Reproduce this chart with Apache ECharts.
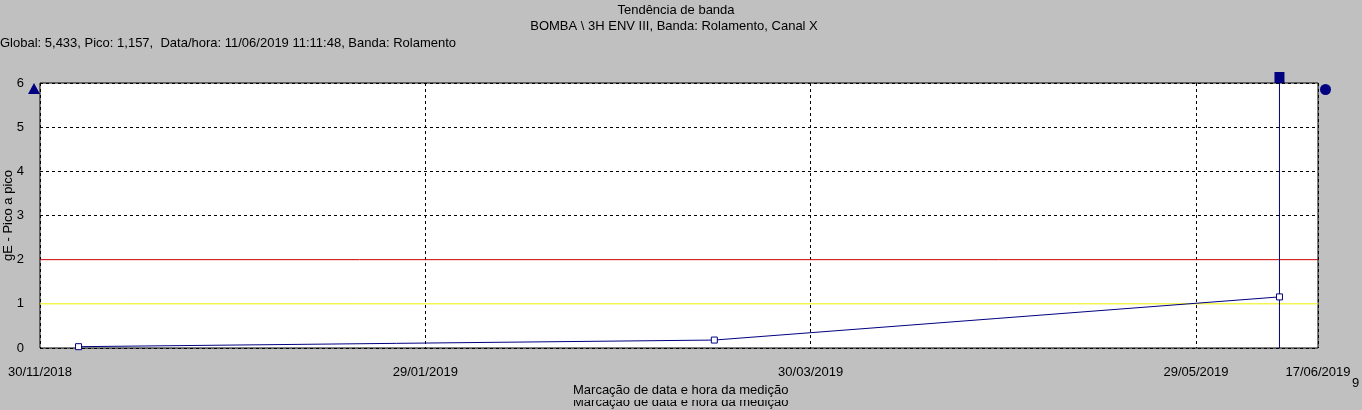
<!DOCTYPE html>
<html>
<head>
<meta charset="utf-8">
<script src="https://cdn.jsdelivr.net/npm/echarts@6/dist/echarts.min.js"></script>
<style>
html,body{margin:0;padding:0;background:#c0c0c0;}
#c{width:1362px;height:410px;}
</style>
</head>
<body>
<div id="c"></div>
<script>
// ---- data ----
const axisStart = '30/11/2018';
const axisEnd = '17/06/2019';
const tickStepDays = 60;
const measureDates = ['06/12/2018', '15/03/2019', '11/06/2019'];
const peakValues = [0.03, 0.18, 1.157];
const cursorDate = '11/06/2019';
const alertLevel = 1;
const dangerLevel = 2;
const yTicks = [0, 1, 2, 3, 4, 5, 6];
const titleText = 'Tendência de banda';
const subtitleText = 'BOMBA \\ 3H ENV III, Banda: Rolamento, Canal X';
const infoText = 'Global: 5,433, Pico: 1,157,  Data/hora: 11/06/2019 11:11:48, Banda: Rolamento';
const xName = 'Marcação de data e hora da medição';
const yName = 'gE - Pico a pico';

const yMin = yTicks[0], yMax = yTicks[yTicks.length - 1], yStep = yTicks[1] - yTicks[0];

function parseDMY(s){ const p = s.split('/').map(Number); return Date.UTC(p[2], p[1]-1, p[0]); }
const base = parseDMY(axisStart);
function dayIdx(s){ return Math.round((parseDMY(s) - base) / 86400000); }
function fmtDay(v){
  const d = new Date(base + Math.round(v) * 86400000);
  const dd = String(d.getUTCDate()).padStart(2,'0');
  const mm = String(d.getUTCMonth()+1).padStart(2,'0');
  return dd + '/' + mm + '/' + d.getUTCFullYear();
}
const xMax = dayIdx(axisEnd);
const seriesData = measureDates.map((d,i)=>[dayIdx(d), peakValues[i]]);
const cursorX = dayIdx(cursorDate);

const navy = '#000080';
const font = 'Liberation Sans, Arial, sans-serif';
const fs = 13;

// grid lines hidden where an alarm line replaces them
const ySplitColors = yTicks.map(v => (v === alertLevel || v === dangerLevel) ? 'rgba(0,0,0,0)' : '#000');

function refLine(points, color, z){
  return {
    type: 'line', data: points, z: z, silent: true, symbol: 'none',
    lineStyle: {color: color, width: 1, type: 'solid', opacity: 1},
    emphasis: {disabled: true}
  };
}

const chart = echarts.init(document.getElementById('c'), null, {renderer:'canvas'});
chart.setOption({
  backgroundColor: '#c0c0c0',
  animation: false,
  textStyle: {fontFamily: font, color:'#000'},
  title: [
    {text: titleText, left: 676, textAlign: 'center', top: 4, padding: 0, textStyle:{fontSize:fs, fontWeight:'normal', color:'#000', fontFamily:font}},
    {text: subtitleText, left: 674, textAlign: 'center', top: 20, padding: 0, textStyle:{fontSize:fs, fontWeight:'normal', color:'#000', fontFamily:font}},
    {text: infoText, left: 0, top: 37, padding: 0, textStyle:{fontSize:fs, fontWeight:'normal', color:'#000', fontFamily:font}}
  ],
  grid: {left: 40, top: 83, width: 1278, height: 265, containLabel: false, outerBoundsMode: 'none',
         show: true, backgroundColor: '#fff', borderColor: '#000', borderWidth: 1},
  xAxis: {
    type: 'value', min: 0, max: xMax, interval: tickStepDays,
    axisLine: {show: false}, axisTick: {show: false},
    axisLabel: {show: true, margin: 18, fontSize: fs, color: '#000', fontFamily: font, formatter: fmtDay, showMinLabel: true, showMaxLabel: true},
    splitLine: {show: true, lineStyle: {color: '#000', type: [3,3], width: 1}}
  },
  yAxis: {
    type: 'value', min: yMin, max: yMax, interval: yStep,
    name: yName, nameLocation: 'middle', nameGap: 25, nameRotate: 90, nameMoveOverlap: false,
    nameTextStyle: {fontSize: fs, color: '#000', fontFamily: font},
    axisLine: {show: false}, axisTick: {show: false},
    axisLabel: {margin: 16, fontSize: fs, color: '#000', fontFamily: font},
    splitLine: {show: true, lineStyle: {color: ySplitColors, type: [3,3], width: 1}}
  },
  graphic: [
    {type:'text', left: 573, top: 396, z: 1, style:{text: xName, font: fs + 'px ' + font, fill:'#000'}},
    {type:'rect', left: 560, top: 393, z: 2, shape:{width: 260, height: 7}, style:{fill:'#c0c0c0'}},
    {type:'text', left: 573, top: 384, z: 3, style:{text: xName, font: fs + 'px ' + font, fill:'#000'}},
    {type:'text', left: 1352, top: 377, z: 3, style:{text: '9', font: fs + 'px ' + font, fill:'#000'}}
  ],
  series: [
    refLine([[0, alertLevel], [xMax, alertLevel]], '#f0f000', 8),
    refLine([[0, dangerLevel], [xMax, dangerLevel]], '#cc0000', 8),
    refLine([[cursorX, yMin], [cursorX, yMax]], navy, 9),
    {
      type: 'line', data: seriesData, z: 10,
      symbol: 'rect', symbolSize: 6, showAllSymbol: true,
      lineStyle: {color: navy, width: 1},
      itemStyle: {color: '#fff', borderColor: navy, borderWidth: 1}
    },
    {
      type: 'scatter', clip: false, z: 11, silent: true,
      data: [
        {value: [0, yMax], symbol: 'triangle', symbolSize: [12, 11], symbolOffset: [-6, 5.5]},
        {value: [xMax, yMax], symbol: 'circle', symbolSize: 11, symbolOffset: [7.5, 6.5]},
        {value: [cursorX, yMax], symbol: 'rect', symbolSize: [10, 11], symbolOffset: [0, -5.5]}
      ],
      itemStyle: {color: navy, opacity: 1}
    }
  ]
});
</script>
</body>
</html>
